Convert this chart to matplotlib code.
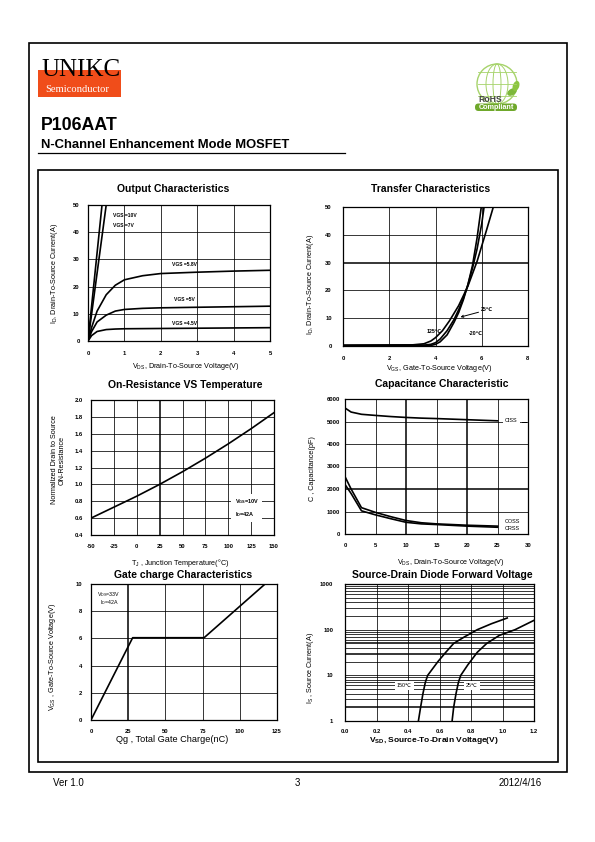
import matplotlib

matplotlib.use("Agg")
import matplotlib.pyplot as plt
from matplotlib.patches import Rectangle, Circle, Ellipse, FancyBboxPatch
from matplotlib.ticker import FixedLocator, NullLocator

plt.rcParams["font.family"] = ["Liberation Sans", "DejaVu Sans"]
plt.rcParams["mathtext.default"] = "regular"
plt.rcParams["axes.unicode_minus"] = False

# ---- data ----
# output characteristics
vds_10v = [0, 0.385]
id_10v = [0, 50]
vds_7v = [0, 0.5]
id_7v = [0, 50]
vds_out = [0, 0.1, 0.25, 0.5, 0.75, 1, 1.5, 2, 3, 4, 5]
id_58v = [0, 5.0, 11.0, 17.0, 20.5, 22.5, 24.0, 24.8, 25.3, 25.7, 26.0]
id_5v = [0, 3.5, 7.0, 9.5, 11.0, 11.6, 12.0, 12.2, 12.4, 12.6, 12.8]
id_45v = [0, 2.0, 3.5, 4.2, 4.4, 4.5, 4.55, 4.6, 4.7, 4.8, 4.9]
out_labels = ["VGS =10V", "VGS =7V", "VGS =5.8V", "VGS =5V", "VGS =4.5V"]

# transfer characteristics
vgs_125 = [0, 3.0, 3.5, 3.8, 4.0, 4.3, 4.6, 5.0, 5.4, 5.8, 6.2, 6.5]
id_125 = [0.3, 0.4, 0.8, 1.8, 3.0, 5.5, 9.0, 14.5, 21.5, 30.5, 41.5, 50]
vgs_25 = [0, 3.5, 3.8, 4.0, 4.2, 4.5, 4.8, 5.0, 5.2, 5.4, 5.6, 5.8, 6.0, 6.1]
id_25 = [0.2, 0.3, 0.6, 1.2, 2.5, 5.5, 9.5, 13, 17, 22, 28, 35, 44, 50]
vgs_m20 = [0, 3.8, 4.0, 4.2, 4.5, 4.8, 5.0, 5.2, 5.4, 5.6, 5.8, 5.98]
id_m20 = [0.1, 0.2, 0.6, 1.5, 4.0, 8.5, 12, 16.5, 22, 29, 39, 50]

# on-resistance vs temperature
tj = [-50, -25, 0, 25, 50, 75, 100, 125, 150]
rds_norm = [0.60, 0.73, 0.86, 1.00, 1.15, 1.31, 1.48, 1.66, 1.85]

# capacitance
vds_cap = [0, 1, 2.7, 5, 7.5, 10, 12.5, 15, 20, 25]
ciss = [5600, 5420, 5320, 5270, 5220, 5180, 5150, 5130, 5080, 5030]
coss = [2550, 2000, 1170, 960, 770, 600, 500, 450, 390, 350]
crss = [2200, 1800, 1030, 850, 680, 520, 450, 420, 350, 300]

# gate charge
qg = [0, 28, 76, 117]
vgs_gate = [0, 6.05, 6.05, 10]

# source-drain diode
vsd_150 = [0.466, 0.48, 0.495, 0.51, 0.525, 0.59, 0.64, 0.69, 0.76, 0.84, 0.93, 1.03]
is_150 = [1, 2, 4, 7, 10, 20, 32, 50, 70, 100, 135, 180]
vsd_25 = [0.68, 0.69, 0.705, 0.72, 0.735, 0.78, 0.84, 0.90, 0.98, 1.08, 1.2]
is_25 = [1, 2, 4, 7, 10, 17, 32, 50, 75, 100, 160]

W, H = 595, 842
fig = plt.figure(figsize=(W / 100, H / 100), dpi=100)

# page layer in pixel coordinates
page = fig.add_axes([0, 0, 1, 1])
page.set_xlim(0, W)
page.set_ylim(H, 0)
page.axis("off")
page.add_patch(Rectangle((28.7, 42.7), 538, 729, fill=False, ec="black", lw=1.2))
page.add_patch(Rectangle((37.7, 170), 520, 591.7, fill=False, ec="black", lw=1.2))

# logo
page.add_patch(Rectangle((38, 70), 82.7, 26.7, color="#F04D1A", lw=0))
page.text(41, 76, "UNIKC", family="Liberation Serif", fontsize=18, va="baseline", ha="left", color="black")
page.text(45, 89.5, "Semiconductor", family="Liberation Serif", fontsize=7.6, va="center", color="white")

# rohs mark
page.add_patch(Circle((497, 84), 20, fill=False, ec="#A6D36A", lw=1.0))
page.add_patch(Ellipse((497, 84), 22, 40, fill=False, ec="#A6D36A", lw=0.7))
page.add_patch(Ellipse((497, 84), 8, 40, fill=False, ec="#A6D36A", lw=0.7))
for yy in (72, 84, 96):
    page.plot([478, 516], [yy, yy], color="#A6D36A", lw=0.6)
page.add_patch(Ellipse((512, 92), 9, 5, angle=-30, color="#7DB83A"))
page.add_patch(Ellipse((516, 86), 5, 9, angle=20, color="#8CC540"))
page.text(490, 99, "RoHS", fontsize=6.2, fontweight="bold", color="#444444", ha="center", va="center")
page.add_patch(FancyBboxPatch((475, 103.5), 42, 7.5, boxstyle="round,pad=0,rounding_size=3.5", color="#6FA82B", lw=0))
page.text(496, 107.5, "Compliant", fontsize=5.2, fontweight="bold", color="white", ha="center", va="center")

page.text(41, 130, "P106AAT", fontsize=12.8, fontweight="bold", va="baseline")
page.text(41, 148.3, "N-Channel Enhancement Mode MOSFET", fontsize=9.4, fontweight="bold", va="baseline")
page.plot([37.7, 345], [153.3, 153.3], color="black", lw=0.9)

page.text(53, 783, "Ver 1.0", fontsize=7, va="center")
page.text(297, 783, "3", fontsize=7, va="center", ha="center")
page.text(542, 783, "2012/4/16", fontsize=7, va="center", ha="right")


def add_chart(box):
    l, t, r, b = box
    ax = fig.add_axes([l / W, 1 - b / H, (r - l) / W, (b - t) / H])
    for s in ax.spines.values():
        s.set_linewidth(0.9)
    ax.tick_params(length=0, labelsize=4.2)
    return ax


def style_ticks(ax, xpad, ypad):
    ax.tick_params(axis="x", pad=xpad)
    ax.tick_params(axis="y", pad=ypad)
    for lab in ax.get_xticklabels() + ax.get_yticklabels():
        lab.set_fontweight("bold")


def grid_lines(ax, xs, ys, thick_x=(), thick_y=()):
    for x in xs:
        ax.axvline(x, color="black", lw=1.1 if x in thick_x else 0.55, zorder=1)
    for y in ys:
        ax.axhline(y, color="black", lw=1.1 if y in thick_y else 0.55, zorder=1)


def ftext(x, y, s, **kw):
    fig.text(x / W, 1 - y / H, s, ha="center", va="center", **kw)


title_kw = dict(fontsize=7.5, fontweight="bold")
lab_kw = dict(fontsize=5.2)
curve_kw = dict(color="black", lw=1.2, zorder=3)

# ---- output characteristics ----
ax = add_chart((88, 205, 270, 341))
ax.set_xlim(0, 5)
ax.set_ylim(0, 50)
ax.set_xticks(range(6))
ax.set_yticks(range(0, 51, 10))
grid_lines(ax, [1, 2, 3, 4], [10, 20, 30, 40])
ax.plot(vds_10v, id_10v, **curve_kw)
ax.plot(vds_7v, id_7v, **curve_kw)
ax.plot(vds_out, id_58v, **curve_kw)
ax.plot(vds_out, id_5v, **curve_kw)
ax.plot(vds_out, id_45v, **curve_kw)
for s, (x, y) in zip(out_labels, [(0.69, 46.3), (0.69, 42.6), (2.3, 28.3), (2.36, 15.4), (2.3, 6.6)]):
    ax.text(x, y, s, fontsize=3.6, fontweight="bold", va="center", ha="left")
style_ticks(ax, 7, 6)
ftext(173, 189, "Output Characteristics", **title_kw)
ftext(186, 366.5, "$V_{DS}$, Drain-To-Source Voltage(V)", **lab_kw)
ftext(55, 273, "$I_D$, Drain-To-Source Current(A)", rotation=90, **lab_kw)

# ---- transfer characteristics ----
ax = add_chart((343, 207, 528, 346))
ax.set_xlim(0, 8)
ax.set_ylim(0, 50)
ax.set_xticks(range(0, 9, 2))
ax.set_yticks(range(0, 51, 10))
grid_lines(ax, [2, 4, 6], [10, 20, 30, 40], thick_y=(30,))
ax.plot(vgs_125, id_125, **curve_kw)
ax.plot(vgs_25, id_25, **curve_kw)
ax.plot(vgs_m20, id_m20, **curve_kw)
ax.annotate("25℃", xy=(5.08, 10.4), xytext=(5.98, 13.0), fontsize=3.8, fontweight="bold", va="center",
            arrowprops=dict(arrowstyle="->", lw=0.7, color="black", shrinkA=0, shrinkB=0))
ax.text(3.95, 5.1, "125℃", fontsize=3.8, fontweight="bold", ha="center", va="center")
ax.text(5.75, 4.5, "-20℃", fontsize=3.8, fontweight="bold", ha="center", va="center")
style_ticks(ax, 7, 8)
ftext(431, 189, "Transfer Characteristics", **title_kw)
ftext(439, 369, "$V_{GS}$, Gate-To-Source Voltage(V)", **lab_kw)
ftext(310, 284, "$I_D$, Drain-To-Source Current(A)", rotation=90, **lab_kw)

# ---- on-resistance vs temperature ----
ax = add_chart((91, 400, 274, 535))
ax.set_xlim(-50, 150)
ax.set_ylim(0.4, 2.0)
ax.set_xticks(range(-50, 151, 25))
ax.set_yticks([0.4, 0.6, 0.8, 1.0, 1.2, 1.4, 1.6, 1.8, 2.0])
ax.set_yticklabels([f"{v:.1f}" for v in ax.get_yticks()])
grid_lines(ax, [-25, 0, 25, 50, 75, 100, 125], [0.6, 0.8, 1.0, 1.2, 1.4, 1.6, 1.8], thick_x=(25,))
ax.plot(tj, rds_norm, **curve_kw)
ax.text(107, 0.72, "$V_{GS}$=10V\n$I_D$=42A", fontsize=4.0, fontweight="bold", va="center", ha="left",
        linespacing=1.6, zorder=4, bbox=dict(facecolor="white", edgecolor="none", pad=2.5))
style_ticks(ax, 6.5, 6)
ftext(185, 385, "On-Resistance VS Temperature", **title_kw)
ftext(180, 563, "T$_J$ , Junction Temperature(°C)", **lab_kw)
ftext(58, 460, "Normalized Drain to Source\nON-Resistance", rotation=90, linespacing=1.1, **lab_kw)

# ---- capacitance ----
ax = add_chart((345, 399, 528, 534))
ax.set_xlim(0, 30)
ax.set_ylim(0, 6000)
ax.set_xticks(range(0, 31, 5))
ax.set_yticks(range(0, 6001, 1000))
grid_lines(ax, [5, 10, 15, 20, 25], [1000, 2000, 3000, 4000, 5000], thick_x=(10, 20), thick_y=(2000,))
ax.plot(vds_cap, ciss, **curve_kw)
ax.plot(vds_cap, coss, **curve_kw)
ax.plot(vds_cap, crss, **curve_kw)
ax.text(26.2, 5030, "CISS", fontsize=4.0, va="center", zorder=4,
        bbox=dict(facecolor="white", edgecolor="none", pad=1.5))
ax.plot([29.0, 29.7], [4960, 4960], color="black", lw=0.7, zorder=4)
ax.text(26.2, 560, "COSS", fontsize=4.0, va="center", zorder=4)
ax.text(26.2, 230, "CRSS", fontsize=4.0, va="center", zorder=4)
style_ticks(ax, 6.5, 3.5)
ftext(442, 384, "Capacitance Characteristic", **title_kw)
ftext(451, 563, "$V_{DS}$, Drain-To-Source Voltage(V)", **lab_kw)
ftext(313, 469, "C , Capacitance(pF)", rotation=90, **lab_kw)

# ---- gate charge ----
ax = add_chart((91, 584, 277, 720))
ax.set_xlim(0, 125)
ax.set_ylim(0, 10)
ax.set_xticks(range(0, 126, 25))
ax.set_yticks(range(0, 11, 2))
grid_lines(ax, [25, 50, 75, 100], [2, 4, 6, 8], thick_x=(25,))
ax.plot(qg, vgs_gate, **curve_kw)
ax.text(4, 9.2, "$V_{DS}$=33V", fontsize=3.8, va="center", ha="left", zorder=4,
        bbox=dict(facecolor="white", edgecolor="none", pad=0.5))
ax.text(5.8, 8.65, "$I_D$=42A", fontsize=3.8, va="center", ha="left", zorder=4,
        bbox=dict(facecolor="white", edgecolor="none", pad=0.5))
style_ticks(ax, 6.5, 6.5)
ftext(183, 575, "Gate charge Characteristics", **title_kw)
ftext(172, 739, "Qg , Total Gate Charge(nC)", fontsize=6.6)
ftext(53, 657, "$V_{GS}$ , Gate-To-Source Voltage(V)", rotation=90, **lab_kw)

# ---- source-drain diode ----
ax = add_chart((345, 584, 534, 721))
ax.set_xlim(0, 1.2)
ax.set_yscale("log")
ax.set_ylim(1, 1000)
ax.set_xticks([0, 0.2, 0.4, 0.6, 0.8, 1.0, 1.2])
ax.set_xticklabels([f"{v:.1f}" for v in ax.get_xticks()])
ax.yaxis.set_major_locator(FixedLocator([1, 10, 100, 1000]))
ax.yaxis.set_minor_locator(NullLocator())
ax.set_yticklabels(["1", "10", "100", "1000"])
minor_y = [m * d for d in (1, 10, 100) for m in range(2, 10)] + [10, 100]
grid_lines(ax, [0.2, 0.4, 0.6, 0.8, 1.0], minor_y, thick_y=(2, 30, 50))
ax.plot(vsd_150, is_150, **curve_kw)
ax.plot(vsd_25, is_25, **curve_kw)
ax.text(0.377, 6.0, "150℃", fontsize=3.8, ha="center", va="center", zorder=4,
        bbox=dict(facecolor="white", edgecolor="none", pad=1.5))
ax.text(0.806, 6.0, "25℃", fontsize=3.8, ha="center", va="center", zorder=4,
        bbox=dict(facecolor="white", edgecolor="none", pad=1.5))
style_ticks(ax, 5.5, 8.5)
ftext(442, 575, "Source-Drain Diode Forward Voltage", **title_kw)
ftext(434, 740, "$V_{SD}$, Source-To-Drain Voltage(V)", fontsize=6.0, fontweight="bold")
ftext(310, 668, "$I_S$ , Source Current(A)", rotation=90, **lab_kw)

fig.savefig("out.png", dpi=100)
